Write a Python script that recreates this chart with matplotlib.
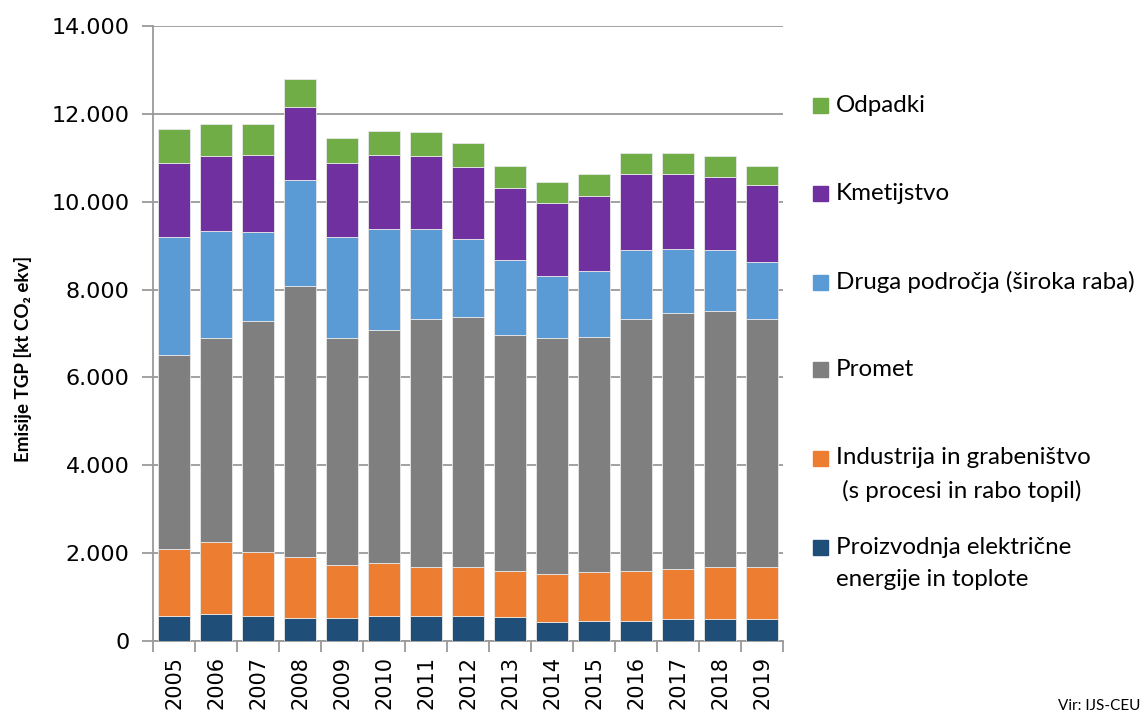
import numpy as np
import matplotlib
matplotlib.use("Agg")
import matplotlib.pyplot as plt
from matplotlib.patches import Rectangle
from matplotlib.ticker import FuncFormatter, FixedLocator

years = ["2005", "2006", "2007", "2008", "2009", "2010", "2011", "2012",
         "2013", "2014", "2015", "2016", "2017", "2018", "2019"]

proizvodnja = [570, 610, 570, 530, 530, 570, 570, 570, 540, 430, 460, 460, 490, 490, 490]
industrija = [1520, 1640, 1460, 1380, 1200, 1200, 1120, 1120, 1050, 1090, 1100, 1130, 1140, 1200, 1200]
promet = [4410, 4640, 5260, 6180, 5160, 5300, 5640, 5680, 5380, 5370, 5370, 5740, 5840, 5820, 5640]
druga = [2690, 2440, 2010, 2400, 2300, 2300, 2040, 1780, 1700, 1420, 1490, 1570, 1460, 1390, 1300]
kmetijstvo = [1700, 1700, 1770, 1670, 1700, 1700, 1660, 1630, 1640, 1670, 1710, 1740, 1710, 1670, 1750]
odpadki = [760, 740, 700, 630, 550, 550, 560, 550, 510, 480, 510, 470, 470, 470, 440]

series = [
    ("Proizvodnja električne\nenergije in toplote", proizvodnja, "#1F4E79"),
    ("Industrija in grabeništvo\n (s procesi in rabo topil)", industrija, "#ED7D31"),
    ("Promet", promet, "#7F7F7F"),
    ("Druga področja (široka raba)", druga, "#5B9BD5"),
    ("Kmetijstvo", kmetijstvo, "#7030A0"),
    ("Odpadki", odpadki, "#70AD47"),
]

W, H = 1145, 716
fig = plt.figure(figsize=(W / 100, H / 100), dpi=100)
ax = fig.add_axes([153 / W, 1 - 641 / H, (783 - 153) / W, (641 - 26) / H])

x = np.arange(len(years))
bottom = np.zeros(len(years))
for name, vals, col in series:
    v = np.array(vals, dtype=float)
    ax.bar(x, v, bottom=bottom, width=0.76, color=col, edgecolor="#e8e8e8",
           linewidth=0.6, zorder=3)
    bottom += v

gc = "#9a9a9a"
ax.set_ylim(0, 14000)
ax.set_xlim(-0.5, len(years) - 0.5)
ax.yaxis.set_major_locator(FixedLocator(np.arange(0, 14001, 2000)))
ax.yaxis.set_major_formatter(FuncFormatter(lambda v, p: f"{int(v):,}".replace(",", ".")))
ax.grid(axis="y", color=gc, linewidth=1.3, zorder=0)
ax.set_axisbelow(True)
for s in ["top", "right"]:
    ax.spines[s].set_visible(False)
for s in ["left", "bottom"]:
    ax.spines[s].set_color(gc)
    ax.spines[s].set_linewidth(1.3)

ax.set_xticks(x)
ax.set_xticklabels(years, rotation=90, fontsize=15, family="DejaVu Sans")
ax.set_xticks(np.arange(-0.5, len(years), 1.0), minor=True)
ax.tick_params(axis="x", which="major", length=0, pad=11)
ax.tick_params(axis="x", which="minor", length=8, width=1.3, color=gc)
ax.tick_params(axis="y", length=8, width=1.3, color=gc, pad=9, labelsize=16)

fig.text(23 / W, 1 - 462 / H, "Emisije TGP [kt CO₂ ekv]", rotation=90,
         rotation_mode="anchor", ha="left", va="center", fontsize=13.5,
         fontweight="bold", family=["Lato", "DejaVu Sans"])

# legend (top to bottom)
legend_items = [
    ("Odpadki", "#70AD47", [105]),
    ("Kmetijstvo", "#7030A0", [193]),
    ("Druga področja (široka raba)", "#5B9BD5", [282]),
    ("Promet", "#7F7F7F", [369]),
    ("Industrija in grabeništvo", "#ED7D31", [458, 491]),
    ("Proizvodnja električne", "#1F4E79", [547, 579]),
]
second_lines = {"Industrija in grabeništvo": " (s procesi in rabo topil)",
                "Proizvodnja električne": "energije in toplote"}
for label, col, ys in legend_items:
    y0 = ys[0]
    fig.add_artist(Rectangle((813 / W, 1 - (y0 + 7.5) / H), 15 / W, 15 / H,
                             transform=fig.transFigure, color=col))
    fig.text(836 / W, 1 - y0 / H, label, ha="left", va="center", fontsize=17.4, family="Lato")
    if len(ys) > 1:
        fig.text(836 / W, 1 - ys[1] / H, second_lines[label], ha="left", va="center",
                 fontsize=17.4, family="Lato")

fig.text(1140 / W, 1 - 713 / H, "Vir: IJS-CEU", ha="right", va="bottom", fontsize=11, family="Lato")

fig.savefig("out.png", dpi=100)
